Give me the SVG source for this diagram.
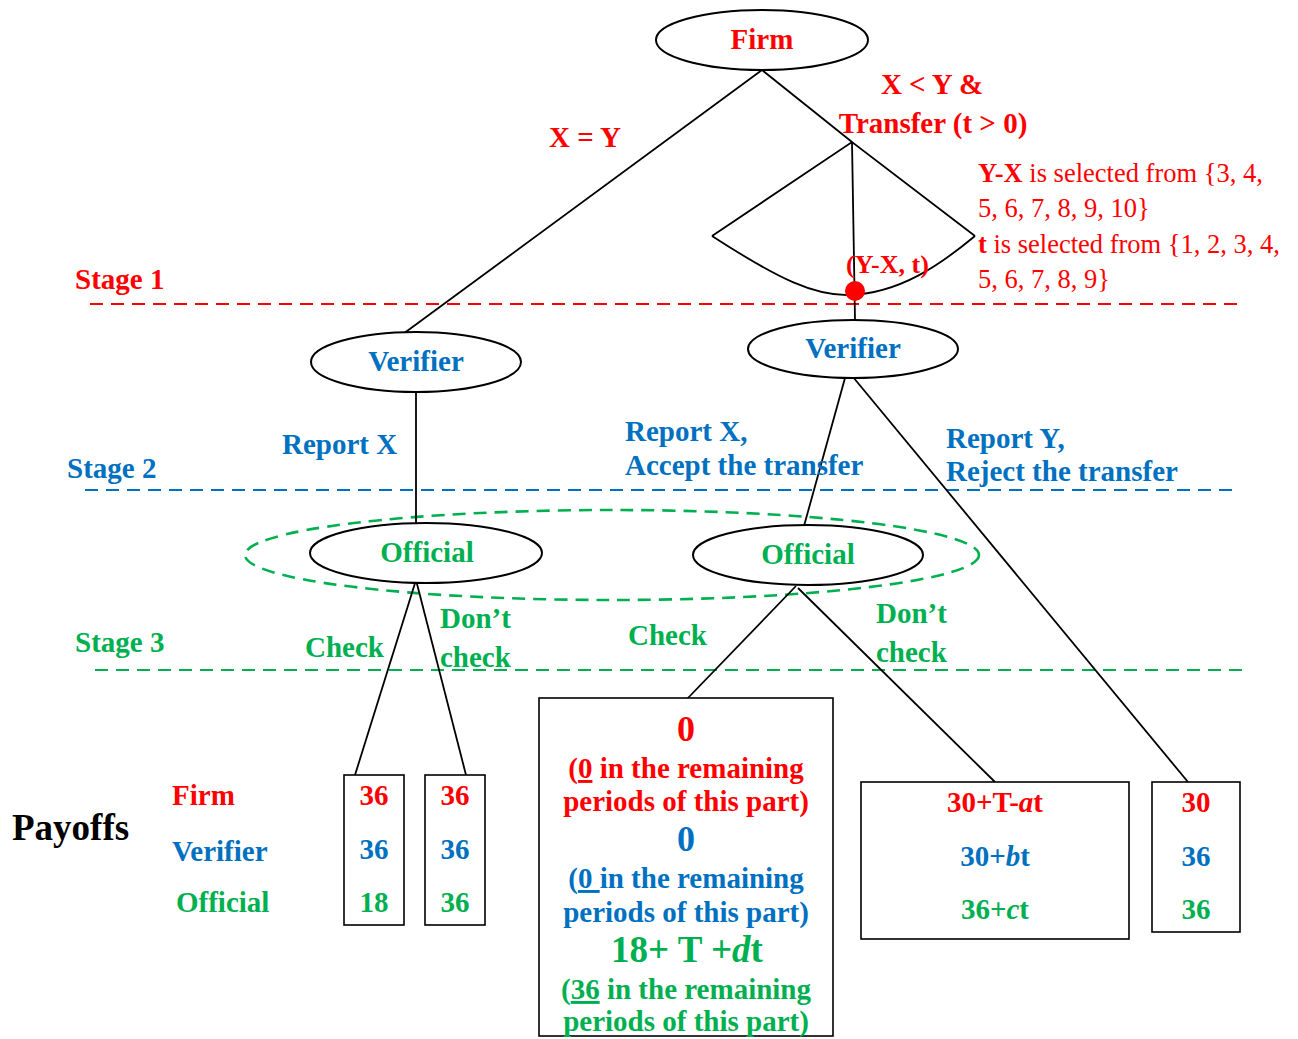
<svg xmlns="http://www.w3.org/2000/svg" width="1298" height="1039" viewBox="0 0 1298 1039">
<style>
text{font-family:"Liberation Serif","Times New Roman",serif;font-weight:bold;font-size:29px}
.r{fill:#FF0000}.b{fill:#0070C0}.g{fill:#00B050}.k{fill:#000}
.c{text-anchor:middle}
.n{font-weight:normal;font-size:26.5px}
.big{font-size:36px}
.node{fill:#fff;stroke:#000;stroke-width:2}
.box{fill:#fff;stroke:#000;stroke-width:1.6}
.edge{fill:none;stroke:#000;stroke-width:1.8}
.dash{fill:none;stroke-width:2.2;stroke-dasharray:13 8}
</style>
<rect width="1298" height="1039" fill="#fff"/>

<g id="stage-lines">
<line class="dash" x1="90" y1="304" x2="1240" y2="304" stroke="#FF0000"/>
<line class="dash" x1="85" y1="490" x2="1235" y2="490" stroke="#0070C0"/>
<line class="dash" x1="95" y1="670" x2="1248" y2="670" stroke="#00B050"/>
<text class="r" x="75" y="289">Stage 1</text>
<text class="b" x="67" y="478">Stage 2</text>
<text class="g" x="75" y="652">Stage 3</text>
</g>

<g id="info-set">
<ellipse cx="612" cy="555" rx="367" ry="45" fill="none" stroke="#00B050" stroke-width="2.6" stroke-dasharray="13 8"/>
</g>

<g id="connectors">
<line class="edge" x1="762" y1="70" x2="403" y2="334"/>
<line class="edge" x1="762" y1="70" x2="852" y2="142"/>
<path class="edge" d="M712,236 L852,142 L975,236"/>
<path class="edge" d="M712,236 C780,280 815,296 850,295 C900,293 940,265 975,236"/>
<line class="edge" x1="852" y1="142" x2="855" y2="320"/>
<line class="edge" x1="416" y1="392" x2="416" y2="523"/>
<line class="edge" x1="845" y1="378" x2="804" y2="526"/>
<line class="edge" x1="853" y1="377" x2="1188" y2="782"/>
<line class="edge" x1="416" y1="580" x2="355" y2="775"/>
<line class="edge" x1="416" y1="580" x2="466" y2="775"/>
<line class="edge" x1="796" y1="586" x2="687" y2="699"/>
<line class="edge" x1="798" y1="588" x2="995" y2="782"/>
<text class="r c" x="585" y="147">X = Y</text>
<text class="r c" x="932" y="94">X &lt; Y &amp;</text>
<text class="r c" x="933" y="133">Transfer (t &gt; 0)</text>
<text class="b" x="282" y="454">Report X</text>
<text class="b" x="625" y="441">Report X,</text>
<text class="b" x="625" y="475">Accept the transfer</text>
<text class="b" x="946" y="448">Report Y,</text>
<text class="b" x="946" y="481">Reject the transfer</text>
<text class="g" x="305" y="657">Check</text>
<text class="g" x="440" y="628">Don’t</text>
<text class="g" x="440" y="667">check</text>
<text class="g" x="628" y="645">Check</text>
<text class="g" x="876" y="623">Don’t</text>
<text class="g" x="876" y="662">check</text>
</g>

<g id="chance">
<circle cx="855" cy="291" r="10" fill="#FF0000"/>
<text class="r" x="846" y="273" style="font-size:26px">(Y-X, t)</text>
<text class="r n" x="978" y="182"><tspan font-weight="bold">Y-X</tspan> is selected from {3, 4,</text>
<text class="r n" x="978" y="217">5, 6, 7, 8, 9, 10}</text>
<text class="r n" x="978" y="253"><tspan font-weight="bold">t</tspan> is selected from {1, 2, 3, 4,</text>
<text class="r n" x="978" y="288">5, 6, 7, 8, 9}</text>
</g>

<g id="firm">
<ellipse class="node" cx="762" cy="40" rx="106" ry="30"/>
<text class="r c" x="762" y="49">Firm</text>
</g>
<g id="verifier-left">
<ellipse class="node" cx="416" cy="362" rx="105" ry="30"/>
<text class="b c" x="416" y="371">Verifier</text>
</g>
<g id="verifier-right">
<ellipse class="node" cx="853" cy="349" rx="105" ry="29"/>
<text class="b c" x="853" y="358">Verifier</text>
</g>
<g id="official-left">
<ellipse class="node" cx="426" cy="553" rx="116" ry="30"/>
<text class="g c" x="427" y="562">Official</text>
</g>
<g id="official-right">
<ellipse class="node" cx="808" cy="555" rx="115" ry="30"/>
<text class="g c" x="808" y="564">Official</text>
</g>

<g id="payoff-labels">
<text class="k" x="12" y="840" style="font-size:37px">Payoffs</text>
<text class="r" x="172" y="805">Firm</text>
<text class="b" x="172" y="861">Verifier</text>
<text class="g" x="176" y="912">Official</text>
</g>

<g id="payoff-1">
<rect class="box" x="344" y="775" width="60" height="150"/>
<text class="r c" x="374" y="805">36</text>
<text class="b c" x="374" y="859">36</text>
<text class="g c" x="374" y="912">18</text>
</g>
<g id="payoff-2">
<rect class="box" x="425" y="775" width="60" height="150"/>
<text class="r c" x="455" y="805">36</text>
<text class="b c" x="455" y="859">36</text>
<text class="g c" x="455" y="912">36</text>
</g>
<g id="payoff-3">
<rect class="box" x="539" y="698" width="294" height="338"/>
<text class="r c big" x="686" y="741">0</text>
<text class="r c" x="686" y="778">(<tspan text-decoration="underline">0</tspan> in the remaining</text>
<text class="r c" x="686" y="811">periods of this part)</text>
<text class="b c big" x="686" y="851">0</text>
<text class="b c" x="686" y="888">(<tspan text-decoration="underline">0 </tspan>in the remaining</text>
<text class="b c" x="686" y="922">periods of this part)</text>
<text class="g c big" x="687" y="962" style="font-size:37px">18+ T +<tspan font-style="italic">d</tspan>t</text>
<text class="g c" x="686" y="999">(<tspan text-decoration="underline">36</tspan> in the remaining</text>
<text class="g c" x="686" y="1031">periods of this part)</text>
</g>
<g id="payoff-4">
<rect class="box" x="861" y="782" width="268" height="157"/>
<text class="r c" x="995" y="812">30+T-<tspan font-style="italic">a</tspan>t</text>
<text class="b c" x="995" y="866">30+<tspan font-style="italic">b</tspan>t</text>
<text class="g c" x="995" y="919">36+<tspan font-style="italic">c</tspan>t</text>
</g>
<g id="payoff-5">
<rect class="box" x="1152" y="782" width="88" height="150"/>
<text class="r c" x="1196" y="812">30</text>
<text class="b c" x="1196" y="866">36</text>
<text class="g c" x="1196" y="919">36</text>
</g>
</svg>
